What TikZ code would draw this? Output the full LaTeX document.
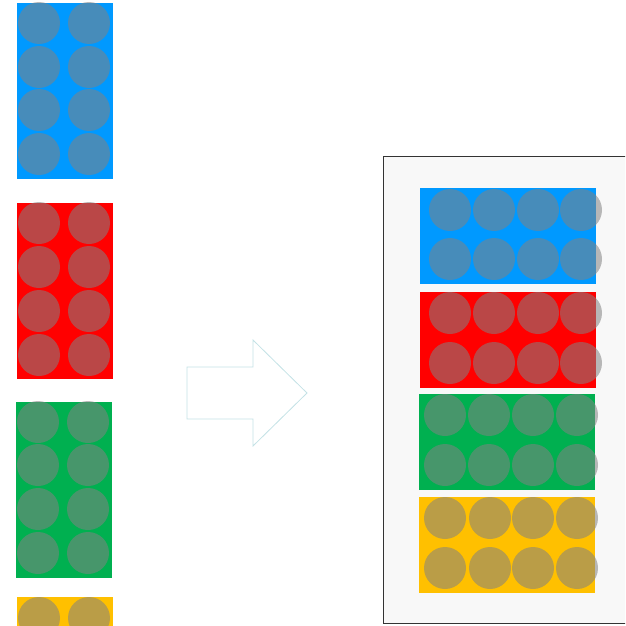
\documentclass[tikz,border=0pt]{standalone}
\definecolor{cblue}{HTML}{0099FF}
\definecolor{cred}{HTML}{FF0000}
\definecolor{cgreen}{HTML}{00B050}
\definecolor{cyellow}{HTML}{FFC000}
\definecolor{dot}{HTML}{828282}
\definecolor{arrowline}{HTML}{C4E2E6}
\definecolor{panel}{HTML}{F8F8F8}
\tikzset{
  stud/.style={fill=dot, fill opacity=0.55, draw=none},
  brick/.style={draw=none},
}
\begin{document}
\begin{tikzpicture}[x=1pt,y=-1pt]
\useasboundingbox (0,0) rectangle (625,626);
\begin{scope}
\clip (0,0) rectangle (625,626);
% left column
\fill[cblue] (17,3) rectangle (113,179);
\foreach \y in {23,67,110,154} \foreach \x in {39,89} \fill[stud] (\x,\y) circle (21);
\fill[cred] (17,203) rectangle (113,379);
\foreach \y in {223,267,311,355} \foreach \x in {39,89} \fill[stud] (\x,\y) circle (21);
\fill[cgreen] (16,402) rectangle (112,578);
\foreach \y in {422,465,509,553} \foreach \x in {38,88} \fill[stud] (\x,\y) circle (21);
\fill[cyellow] (17,597) rectangle (113,630);
\foreach \x in {39,89} \fill[stud] (\x,618) circle (21);
% arrow
\draw[arrowline, fill=white, line width=0.8pt] (187,367) -- (253,367) -- (253,340) -- (307,393) -- (253,446) -- (253,419) -- (187,419) -- cycle;
% panel
\draw[fill=panel, draw=black!80, line width=1pt] (383.5,156.5) rectangle (630,623);
\fill[cblue] (420,188) rectangle (596,284);
\foreach \y in {210,259} \foreach \x in {450,494,538,581} \fill[stud] (\x,\y) circle (21);
\fill[cred] (420,292) rectangle (596,388);
\foreach \y in {313,363} \foreach \x in {450,494,538,581} \fill[stud] (\x,\y) circle (21);
\fill[cgreen] (419,394) rectangle (595,490);
\foreach \y in {415,465} \foreach \x in {445,489,533,577} \fill[stud] (\x,\y) circle (21);
\fill[cyellow] (419,497) rectangle (595,593);
\foreach \y in {518,568} \foreach \x in {445,490,533,577} \fill[stud] (\x,\y) circle (21);
\end{scope}
\end{tikzpicture}
\end{document}
